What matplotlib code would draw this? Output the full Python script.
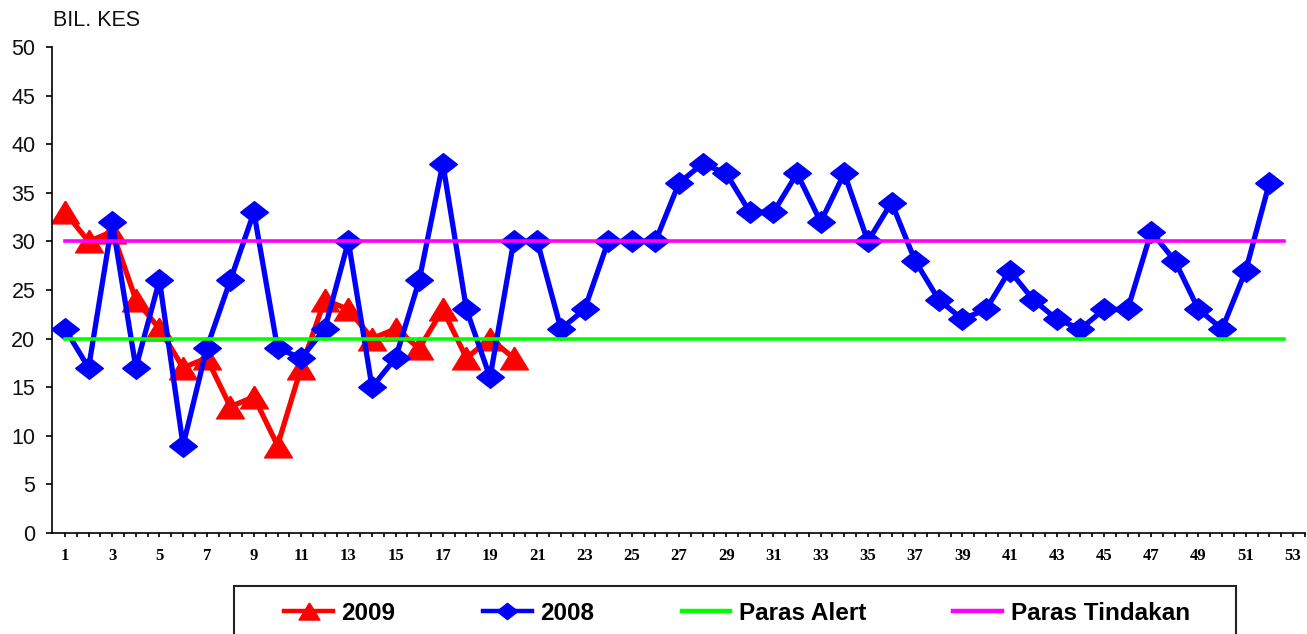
import numpy as np
import matplotlib
matplotlib.use("Agg")
from matplotlib import pyplot as plt
from matplotlib.patches import Rectangle

# weekly case counts (minggu epidemiologi)
weeks_2009 = list(range(1, 21))
cases_2009 = [33, 30, 31, 24, 21, 17, 18, 13, 14, 9,
              17, 24, 23, 20, 21, 19, 23, 18, 20, 18]

weeks_2008 = list(range(1, 53))
cases_2008 = [21, 17, 32, 17, 26, 9, 19, 26, 33, 19,
              18, 21, 30, 15, 18, 26, 38, 23, 16, 30,
              30, 21, 23, 30, 30, 30, 36, 38, 37, 33,
              33, 37, 32, 37, 30, 34, 28, 24, 22, 23,
              27, 24, 22, 21, 23, 23, 31, 28, 23, 21,
              27, 36]

alert_level = 20
action_level = 30

series_labels = ["2009", "2008", "Paras Alert", "Paras Tindakan"]
x_tick_labels = [str(w) for w in range(1, 54, 2)]
y_ticks = list(range(0, 51, 5))

W, H = 1307, 634
fig = plt.figure(figsize=(W / 100, H / 100), dpi=100)
ax = fig.add_axes([52 / W, 1 - 533 / H, (1305 - 52) / W, (533 - 47) / H])

# custom markers, a bit wider than tall like the excel ones
tri = [(0, 0.82), (-1, -0.82), (1, -0.82), (0, 0.82)]
dia = [(-1, 0), (0, 0.78), (1, 0), (0, -0.78), (-1, 0)]

ax.plot(weeks_2009, cases_2009, color="#FF0000", lw=3.8, marker=tri,
        markersize=20, label=series_labels[0], zorder=2)
ax.plot(weeks_2008, cases_2008, color="#0000FF", lw=3.8, marker=dia,
        markersize=20, label=series_labels[1], zorder=3)
line_end = 52.6
ax.plot([weeks_2008[0], line_end], [alert_level, alert_level], color="#00FF00",
        lw=2.6, label=series_labels[2], zorder=4)
ax.plot([weeks_2008[0], line_end], [action_level, action_level], color="#FF00FF",
        lw=2.6, label=series_labels[3], zorder=5)

ax.set_xlim(0.449, 53.51)
ax.set_ylim(0, 50)

for s in ["top", "right"]:
    ax.spines[s].set_visible(False)
for s in ["left", "bottom"]:
    ax.spines[s].set_linewidth(1.2)
    ax.spines[s].set_color("black")

ax.set_yticks(y_ticks)
ax.set_yticklabels([str(v) for v in y_ticks], fontsize=15.5,
                   family=["Liberation Sans", "DejaVu Sans"], color="#111111")
ax.tick_params(axis="y", direction="out", length=4, width=1.2, pad=8)

ax.set_xticks(list(range(1, 54, 2)))
ax.set_xticks(np.arange(1.5, 54, 0.5), minor=True)
ax.set_xticklabels(x_tick_labels, fontsize=12, fontweight="bold",
                   family=["Liberation Serif", "DejaVu Serif"])
ax.tick_params(axis="x", which="both", direction="out", length=3, width=1.2, pad=8)

fig.text(53 / W, 1 - 20 / H, "BIL. KES", fontsize=15.5, va="center", ha="left",
         family=["Liberation Sans", "DejaVu Sans"], color="#111111")

# legend box, runs off the bottom of the image like the original
fig.patches.append(Rectangle((234 / W, -0.05), (1236 - 234) / W, 0.05 + 1 - 586 / H,
                             transform=fig.transFigure, fill=False,
                             edgecolor="#222222", lw=1.5))
leg = fig.legend(loc="center", bbox_to_anchor=(737 / W, 1 - 613 / H), ncol=4,
                 frameon=False, markerscale=0.75, handlelength=2.0,
                 handletextpad=0.35, columnspacing=3.6,
                 prop={"family": ["Liberation Sans", "DejaVu Sans"],
                       "weight": "bold", "size": 17.5})
for h in leg.legend_handles:
    h.set_linewidth(3.2)

fig.savefig("out.png", dpi=100)
